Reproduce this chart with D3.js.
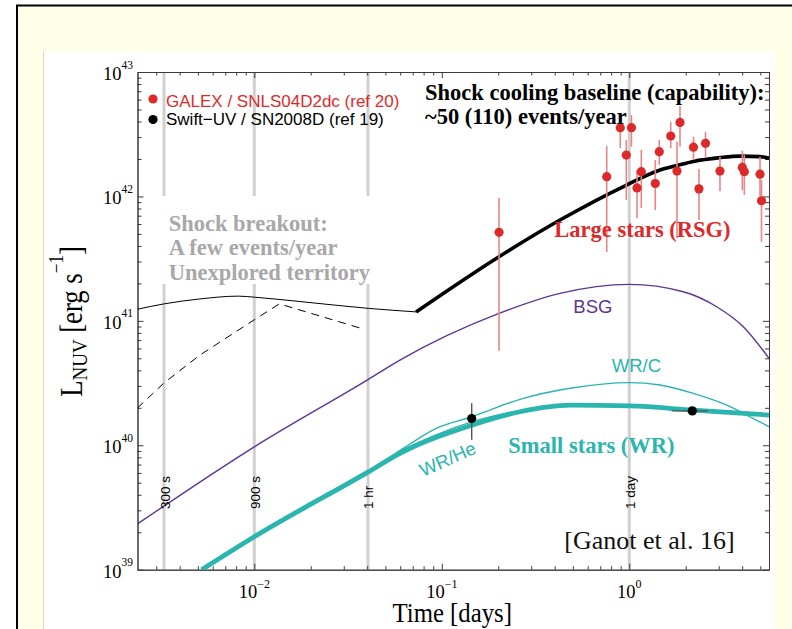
<!DOCTYPE html>
<html>
<head>
<meta charset="utf-8">
<script src="https://cdn.jsdelivr.net/npm/d3@7"></script>
<style>
  body { margin: 0; background: #fff; }
  svg { display: block; }
  .serif { font-family: "Liberation Serif", "Times New Roman", serif; }
  .sans { font-family: "Liberation Sans", Arial, sans-serif; }
</style>
</head>
<body>
<div id="app"></div>
<script>
// values (time in days, luminosity in erg/s)

const xTickExps = [-2, -1, 0];
const yTickExps = [39, 40, 41, 42, 43];

const markerDays = [0.0033, 0.0100, 0.0404, 1.0];
const markerLabels = ['300 s', '900 s', '1 hr', '1 day'];

const breakoutSolid = [[0.00238, 1.24e41], [0.00331, 1.37e41], [0.00513, 1.50e41], [0.00822, 1.58e41],
  [0.0100, 1.55e41], [0.0175, 1.43e41], [0.0406, 1.26e41], [0.0729, 1.18e41]];
const breakoutDashed = [[0.00238, 1.99e40], [0.00331, 3.18e40], [0.00513, 5.31e40], [0.0100, 1.02e41],
  [0.0136, 1.37e41], [0.0381, 8.6e40]];

const rsgCurve = [[0.0729, 1.18e41], [0.202, 3.28e41], [0.427, 6.46e41], [0.968, 1.235e42], [1.458, 1.63e42],
  [1.796, 1.77e42], [2.194, 1.91e42], [3.045, 2.05e42], [3.894, 2.11e42], [4.98, 2.09e42], [5.56, 2.03e42]];
const bsgCurve = [[0.00238, 2.33e39], [0.0100, 9.72e39], [0.0406, 3.39e40], [0.0598, 4.84e40], [0.202, 1.149e41],
  [0.427, 1.664e41], [1.0, 1.965e41], [1.941, 1.714e41], [2.925, 1.298e41], [4.055, 8.97e40], [5.56, 5.0e40]];
const wrCurve = [[0.00524, 1.0e39], [0.0100, 1.84e39], [0.0406, 6.12e39], [0.0598, 8.61e39], [0.1444, 1.45e40],
  [0.2613, 1.86e40], [0.483, 2.10e40], [1.0, 2.07e40], [2.194, 1.92e40], [5.56, 1.75e40]];
const wrcCurve = [[0.0406, 6.12e39], [0.0623, 9.44e39], [0.0939, 1.374e40], [0.1444, 1.695e40], [0.2613, 2.34e40],
  [0.483, 2.87e40], [1.0, 3.19e40], [1.458, 3.05e40], [2.194, 2.61e40], [3.307, 2.10e40], [4.228, 1.75e40], [5.56, 1.41e40]];
const wrheCurve = [[0.0406, 6.25e39], [0.0598, 8.9e39], [0.0939, 1.22e40], [0.1444, 1.54e40], [0.2613, 1.90e40],
  [0.483, 2.12e40], [1.0, 2.09e40], [2.194, 1.94e40], [5.56, 1.77e40]];

// GALEX / SNLS04D2dc: [t, L, Llow, Lhigh]
const galexPoints = [
  [0.202, 5.15e41, 5.75e40, 9.7e41], [0.758, 1.44e42, 3.57e41, 2.54e42], [0.895, 3.57e42, 2.45e42, 4.37e42],
  [1.027, 3.57e42, 2.51e42, 4.51e42], [0.964, 2.15e42, 9.35e41, 2.84e42], [1.099, 1.17e42, 6.67e41, 1.63e42],
  [1.159, 1.58e42, 8.07e41, 2.36e42], [1.376, 1.27e42, 7.78e41, 1.96e42], [1.445, 2.29e42, 1.79e42, 2.84e42],
  [1.663, 3.06e42, 2.44e42, 3.98e42], [1.864, 3.93e42, 2.51e42, 5.33e42], [1.796, 1.60e42, 4.63e41, 2.75e42],
  [2.20, 2.49e42, 1.96e42, 3.02e42], [2.55, 2.67e42, 2.08e42, 3.31e42], [2.353, 1.15e42, 6.46e41, 1.66e42],
  [3.045, 1.60e42, 1.10e42, 2.08e42], [4.006, 1.71e42, 1.12e42, 2.33e42], [4.106, 1.58e42, 1.03e42, 2.15e42],
  [4.98, 1.51e42, 1.01e42, 2.08e42], [5.07, 9.23e41, 4.32e41, 1.36e42]
];
// Swift-UV / SN2008D: [t, L, Llow, Lhigh, tlow, thigh]
const swiftPoints = [
  [0.1444, 1.64e40, 1.11e40, 2.18e40, null, null],
  [2.168, 1.89e40, null, null, 1.684, 2.638]
];

const RED = '#dc2a2a', TEAL = '#2ab5ae', PURPLE = '#5c3596', GREY = '#d0d0d0';

const W = 792, H = 629;
const plot = {left: 137.5, right: 769, top: 72, bottom: 569.7};

const svg = d3.select('#app').append('svg').attr('width', W).attr('height', H);

// slide frame
svg.append('rect').attr('width', W).attr('height', H).attr('fill', '#fff');
svg.append('rect').attr('x', 17).attr('y', 5.5).attr('width', W).attr('height', H)
  .attr('fill', '#fffee6').attr('stroke', '#000').attr('stroke-width', 2);
svg.append('rect').attr('x', 43.5).attr('y', 51).attr('width', 731.5).attr('height', H)
  .attr('fill', '#fff');
svg.append('line').attr('x1', 43.5).attr('x2', 43.5).attr('y1', 51).attr('y2', H)
  .attr('stroke', '#d8d8c8').attr('stroke-width', 1);

const x = d3.scaleLog().domain([0.002383, 5.56]).range([plot.left, plot.right]);
const y = d3.scaleLog().domain([1e39, 1e43]).range([plot.bottom, plot.top]);

svg.append('clipPath').attr('id', 'clip').append('rect')
  .attr('x', plot.left).attr('y', plot.top)
  .attr('width', plot.right - plot.left).attr('height', plot.bottom - plot.top);

// vertical time markers
svg.append('g').selectAll('line').data(markerDays).enter().append('line')
  .attr('x1', d => x(d)).attr('x2', d => x(d))
  .attr('y1', plot.top).attr('y2', plot.bottom)
  .attr('stroke', GREY).attr('stroke-width', 3);

// white box behind the breakout text
svg.append('rect').attr('x', 158).attr('y', 196).attr('width', 218).attr('height', 88).attr('fill', '#fff');

// axes
const isMajor = d => Math.abs(Math.log10(d) - Math.round(Math.log10(d))) < 1e-6;
const xMajor = x.ticks().filter(isMajor), xMinor = x.ticks().filter(d => !isMajor(d));
const yMajor = y.ticks().filter(isMajor), yMinor = y.ticks().filter(d => !isMajor(d));

function drawAxis(axisFn, scale, values, size, tx, ty) {
  const g = svg.append('g').attr('transform', `translate(${tx},${ty})`)
    .call(axisFn(scale).tickValues(values).tickSize(size).tickSizeOuter(0).tickFormat(''));
  g.selectAll('path, line').attr('stroke', '#3a3a3a').attr('stroke-width', 1);
  return g;
}
drawAxis(d3.axisBottom, x, xMajor, -6, 0, plot.bottom);
drawAxis(d3.axisBottom, x, xMinor, -3.5, 0, plot.bottom);
drawAxis(d3.axisTop, x, xMajor, -6, 0, plot.top);
drawAxis(d3.axisTop, x, xMinor, -3.5, 0, plot.top);
drawAxis(d3.axisLeft, y, yMajor, -6, plot.left, 0);
drawAxis(d3.axisLeft, y, yMinor, -4, plot.left, 0);
drawAxis(d3.axisRight, y, yMajor, -6, plot.right, 0);
drawAxis(d3.axisRight, y, yMinor, -4, plot.right, 0);

// tick labels 10^n
const fmtExp = n => (n < 0 ? '\u2212' + (-n) : '' + n);
const xl = svg.append('g').selectAll('text').data(xTickExps).enter().append('text')
  .attr('class', 'serif').attr('x', d => x(Math.pow(10, d))).attr('y', plot.bottom + 28.5)
  .attr('text-anchor', 'middle').attr('font-size', 18.5);
xl.append('tspan').text('10');
xl.append('tspan').attr('dy', -10).attr('font-size', 12).text(d => fmtExp(d));

const yl = svg.append('g').selectAll('text').data(yTickExps).enter().append('text')
  .attr('class', 'serif').attr('x', 133).attr('y', d => y(Math.pow(10, d)) + 8)
  .attr('text-anchor', 'end').attr('font-size', 18.5);
yl.append('tspan').text('10');
yl.append('tspan').attr('dy', -11.5).attr('font-size', 11.5).text(d => d);

// axis titles
svg.append('text').attr('class', 'serif')
  .attr('transform', 'translate(392.5,621.5) scale(0.885,1)')
  .attr('font-size', 28).text('Time [days]');

const ylab = svg.append('text').attr('class', 'serif')
  .attr('transform', 'translate(81.7,396.7) rotate(-90) scale(0.86,1)')
  .attr('font-size', 31);
ylab.append('tspan').text('L');
ylab.append('tspan').attr('dy', 5).attr('font-size', 22).text('NUV');
ylab.append('tspan').attr('dy', -5).text(' [erg s');
ylab.append('tspan').attr('dy', -18.5).attr('font-size', 20).text('\u22121');
ylab.append('tspan').attr('dy', 18.5).text(']');

// curves
const curves = svg.append('g').attr('clip-path', 'url(#clip)');
const smooth = d3.line().x(d => x(d[0])).y(d => y(d[1])).curve(d3.curveMonotoneX);
const straight = d3.line().x(d => x(d[0])).y(d => y(d[1]));

function drawCurve(data, gen, color, width, dash) {
  curves.append('path').datum(data).attr('d', gen)
    .attr('fill', 'none').attr('stroke', color).attr('stroke-width', width)
    .attr('stroke-dasharray', dash || null).attr('stroke-linejoin', 'round');
}
drawCurve(breakoutSolid, smooth, '#000', 1);
drawCurve(breakoutDashed, straight, '#000', 1, '8,6');
drawCurve(bsgCurve, smooth, PURPLE, 1.4);
drawCurve(wrcCurve, smooth, TEAL, 1.4);
drawCurve(wrheCurve, smooth, TEAL, 1.4);
drawCurve(wrCurve, smooth, TEAL, 4.8);
drawCurve(rsgCurve, smooth, '#000', 3.6);

// GALEX points
const gal = svg.append('g');
gal.selectAll('line').data(galexPoints).enter().append('line')
  .attr('x1', d => x(d[0])).attr('x2', d => x(d[0]))
  .attr('y1', d => y(d[2])).attr('y2', d => y(d[3]))
  .attr('stroke', '#ea8585').attr('stroke-width', 1.6);
gal.selectAll('circle').data(galexPoints).enter().append('circle')
  .attr('cx', d => x(d[0])).attr('cy', d => y(d[1])).attr('r', 4.6).attr('fill', RED);

// Swift points
const sw = svg.append('g');
sw.selectAll('line.v').data(swiftPoints.filter(d => d[2])).enter().append('line')
  .attr('x1', d => x(d[0])).attr('x2', d => x(d[0]))
  .attr('y1', d => y(d[2])).attr('y2', d => y(d[3]))
  .attr('stroke', '#555').attr('stroke-width', 1.4);
sw.selectAll('line.h').data(swiftPoints.filter(d => d[4])).enter().append('line')
  .attr('x1', d => x(d[4])).attr('x2', d => x(d[5]))
  .attr('y1', d => y(d[1])).attr('y2', d => y(d[1]))
  .attr('stroke', '#555').attr('stroke-width', 1.4);
sw.selectAll('circle').data(swiftPoints).enter().append('circle')
  .attr('cx', d => x(d[0])).attr('cy', d => y(d[1])).attr('r', 4.6).attr('fill', '#000');

// marker labels
svg.append('g').selectAll('text').data(markerDays).enter().append('text')
  .attr('class', 'sans').attr('font-size', 13.5)
  .attr('transform', d => `translate(${x(d) + 5.5},509) rotate(-90)`)
  .text((d, i) => markerLabels[i]);

// legend
svg.append('circle').attr('cx', 153).attr('cy', 99).attr('r', 4.6).attr('fill', RED);
svg.append('circle').attr('cx', 153).attr('cy', 119.5).attr('r', 4.6).attr('fill', '#000');
svg.append('text').attr('class', 'sans').attr('x', 166).attr('y', 106.5).attr('font-size', 17)
  .attr('fill', RED).text('GALEX / SNLS04D2dc (ref 20)');
svg.append('text').attr('class', 'sans').attr('x', 166).attr('y', 124.5).attr('font-size', 17)
  .attr('fill', '#000').text('Swift\u2212UV / SN2008D (ref 19)');

// annotations
function boldLines(lines, x0, y0, step, color) {
  svg.append('g').selectAll('text').data(lines).enter().append('text')
    .attr('class', 'serif').attr('font-weight', 'bold').attr('font-size', 22.5)
    .attr('x', x0).attr('y', (d, i) => y0 + i * step).attr('fill', color).text(d => d);
}
boldLines(['Shock cooling baseline (capability):', '~50 (110) events/year'], 425, 100, 24, '#000');
boldLines(['Shock breakout:', 'A few events/year', 'Unexplored territory'], 168.7, 230.5, 24.7, '#a8a8a8');
boldLines(['Large stars (RSG)'], 554.3, 236.7, 0, RED);
boldLines(['Small stars (WR)'], 508.3, 453.3, 0, TEAL);

svg.append('text').attr('class', 'sans').attr('x', 573.3).attr('y', 313.3).attr('font-size', 18.5)
  .attr('fill', PURPLE).text('BSG');
svg.append('text').attr('class', 'sans').attr('x', 611.7).attr('y', 372.3).attr('font-size', 18.5)
  .attr('fill', TEAL).text('WR/C');
svg.append('text').attr('class', 'sans').attr('font-size', 18.5).attr('fill', TEAL)
  .attr('transform', 'translate(423,477) rotate(-24)').text('WR/He');

svg.append('text').attr('class', 'serif').attr('x', 564.3).attr('y', 549).attr('font-size', 26)
  .attr('fill', '#111').text('[Ganot et al. 16]');
</script>
</body>
</html>
